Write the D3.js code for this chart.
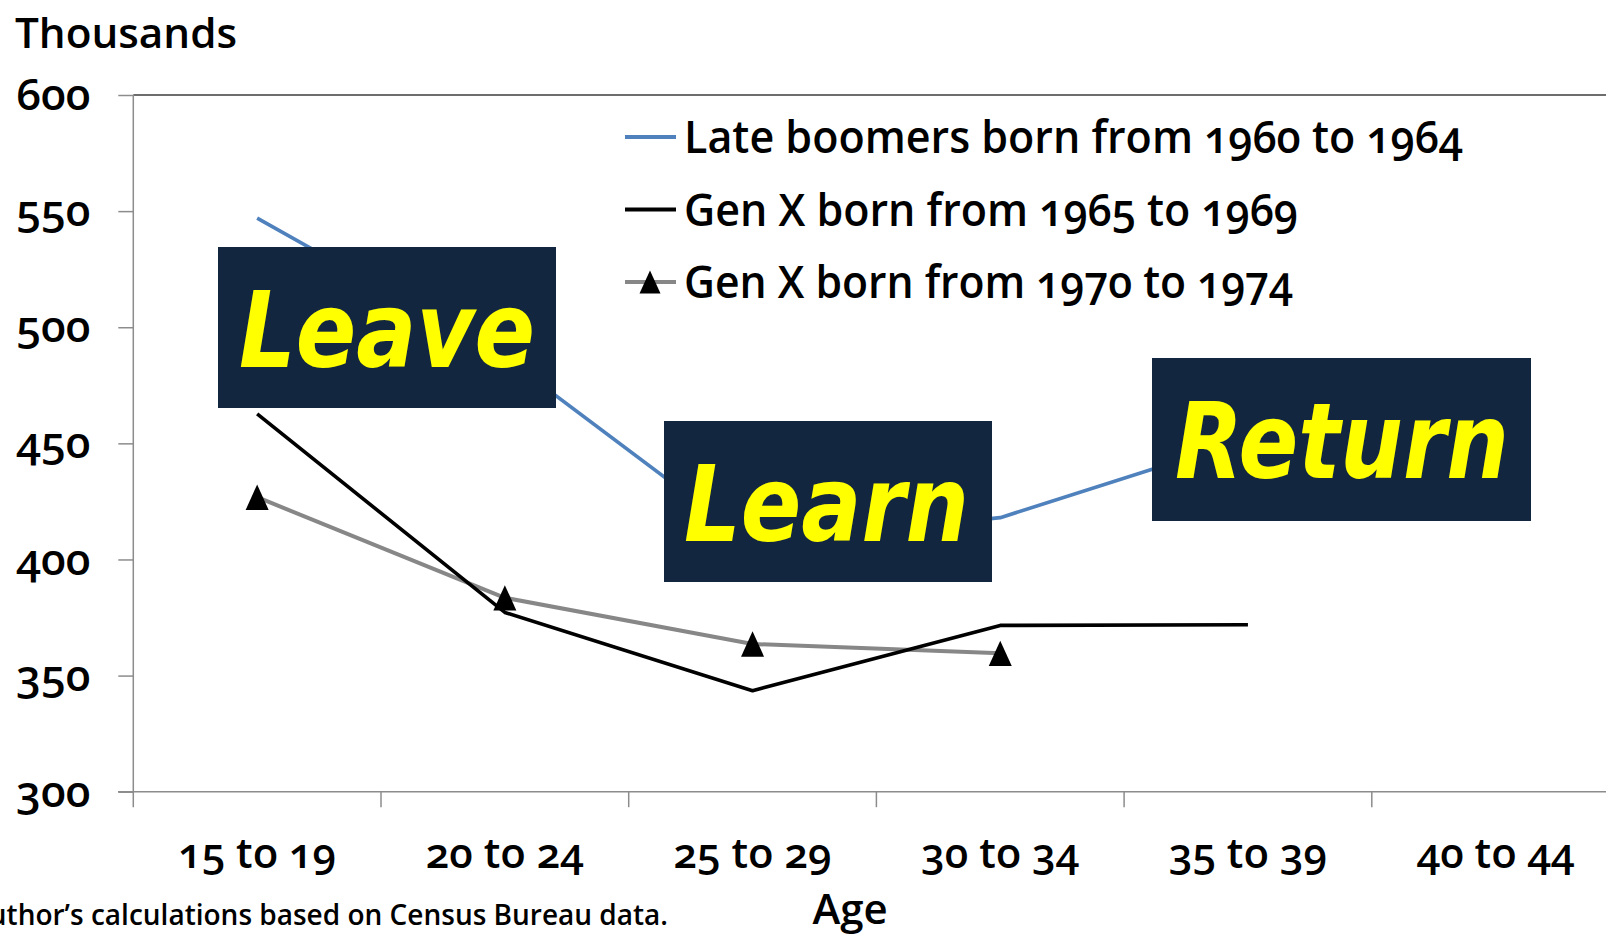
<!DOCTYPE html>
<html lang="en">
<head>
    <meta charset="UTF-8">
    <title>Leave, Learn, Return</title>
    <style>
        body { margin: 0; background: #fff; }
        svg { display: block; }
        .lbl { font-family: "Open Sans", sans-serif; font-weight: 600; font-feature-settings: "onum"; font-variant-numeric: oldstyle-nums; }
    </style>
</head>
<body>

    <svg id="svg" width="1606" height="936"></svg>

    <script src="https://d3js.org/d3.v7.min.js"></script>
    <script>
        // categories and values (thousands)
        const ages = ['15 to 19', '20 to 24', '25 to 29', '30 to 34', '35 to 39', '40 to 44']
        const lateBoomers = [547, 487, 407, 418, 452, 468]
        const genX6569 = [462.7, 377.2, 343.5, 371.6, 371.9]
        const genX7074 = [426.8, 383.5, 363.6, 359.6]
        const yTicks = [300, 350, 400, 450, 500, 550, 600]
        const seriesNames = ['Late boomers born from 1960 to 1964', 'Gen X born from 1965 to 1969', 'Gen X born from 1970 to 1974']
        const boxWords = ['Leave', 'Learn', 'Return']

        const svg = d3.select('#svg')

        const x = d3.scaleBand()
            .domain(ages)
            .range([133.3, 133.3 + 6 * 247.7])

        const y = d3.scaleLinear()
            .domain([300, 600])
            .range([791.7, 95])

        const cx = d => x(d) + x.bandwidth() / 2

        // triangle with its box centred on the point
        const tri = {
            draw(ctx, size) {
                const w = Math.sqrt(size) , h = w * 1.1
                ctx.moveTo(0, -h / 2)
                ctx.lineTo(w / 2, h / 2)
                ctx.lineTo(-w / 2, h / 2)
                ctx.closePath()
            }
        }

        // axes lines
        svg.append('line')
            .attr('x1', 133.3).attr('x2', 1606)
            .attr('y1', y(600)).attr('y2', y(600))
            .attr('stroke', '#3c3c3c').attr('stroke-width', 1.4)
        svg.append('line')
            .attr('x1', 133.3).attr('x2', 133.3)
            .attr('y1', y(600)).attr('y2', y(300) + 15.5)
            .attr('stroke', '#8c8c8c').attr('stroke-width', 1.5)
        svg.append('line')
            .attr('x1', 118).attr('x2', 1606)
            .attr('y1', y(300)).attr('y2', y(300))
            .attr('stroke', '#8c8c8c').attr('stroke-width', 1.5)

        // y axis
        const yAxis = svg.append('g')
            .attr('transform', 'translate(133.3,0)')
            .call(d3.axisLeft(y).tickValues(yTicks).tickSize(15).tickSizeOuter(0).tickPadding(28))
        yAxis.select('.domain').remove()
        yAxis.selectAll('line').attr('stroke', '#8c8c8c').attr('stroke-width', 1.5)
        yAxis.selectAll('text')
            .attr('class', 'lbl')
            .attr('font-size', 43)
            .attr('fill', '#000')
            .attr('dy', '0.34em')
            .attr('textLength', 74)
            .attr('lengthAdjust', 'spacingAndGlyphs')

        // x axis: ticks on band edges, labels centred
        svg.append('g')
            .selectAll('line')
            .data(ages)
            .enter()
            .append('line')
            .attr('x1', d => x(d) + x.bandwidth()).attr('x2', d => x(d) + x.bandwidth())
            .attr('y1', y(300)).attr('y2', y(300) + 15.5)
            .attr('stroke', '#8c8c8c').attr('stroke-width', 1.5)

        svg.append('g')
            .selectAll('text')
            .data(ages)
            .enter()
            .append('text')
            .attr('class', 'lbl')
            .attr('x', d => cx(d))
            .attr('y', 868)
            .attr('text-anchor', 'middle')
            .attr('font-size', 42)
            .attr('textLength', 158)
            .attr('lengthAdjust', 'spacingAndGlyphs')
            .text(d => d)

        // series lines
        const line = d3.line()
            .x((d, i) => cx(ages[i]))
            .y(d => y(d))

        svg.append('path')
            .datum(lateBoomers)
            .attr('d', line)
            .attr('fill', 'none')
            .attr('stroke', '#4f81bd')
            .attr('stroke-width', 3.6)
            .attr('stroke-linejoin', 'round')

        svg.append('path')
            .datum(genX7074)
            .attr('d', line)
            .attr('fill', 'none')
            .attr('stroke', '#878787')
            .attr('stroke-width', 4)
            .attr('stroke-linejoin', 'round')

        svg.append('path')
            .datum(genX6569)
            .attr('d', line)
            .attr('fill', 'none')
            .attr('stroke', '#000')
            .attr('stroke-width', 3.6)
            .attr('stroke-linejoin', 'round')

        svg.append('g')
            .selectAll('path')
            .data(genX7074)
            .enter()
            .append('path')
            .attr('d', d3.symbol().type(tri).size(23 * 23))
            .attr('transform', (d, i) => `translate(${cx(ages[i])},${y(d)})`)
            .attr('fill', '#000')

        // legend
        const legend = svg.append('g')
        const legendColors = ['#4f81bd', '#000', '#878787']
        legend.selectAll('line')
            .data(seriesNames)
            .enter()
            .append('line')
            .attr('x1', 625).attr('x2', 676)
            .attr('y1', (d, i) => 137 + i * 72.5)
            .attr('y2', (d, i) => 137 + i * 72.5)
            .attr('stroke', (d, i) => legendColors[i])
            .attr('stroke-width', 3.8)
        legend.append('path')
            .attr('d', d3.symbol().type(tri).size(21 * 21))
            .attr('transform', `translate(650,${137 + 2 * 72.5})`)
            .attr('fill', '#000')
        const legendWidths = [779, 614, 609]
        legend.selectAll('text')
            .data(seriesNames)
            .enter()
            .append('text')
            .attr('class', 'lbl')
            .attr('x', 684)
            .attr('y', (d, i) => 153 + i * 72.5)
            .attr('font-size', 46)
            .attr('textLength', (d, i) => legendWidths[i])
            .attr('lengthAdjust', 'spacingAndGlyphs')
            .text(d => d)

        // annotation boxes
        const boxes = [
            { x: 218, y: 247, w: 338, h: 161, tx: 239, ty: 367, tw: 296 },
            { x: 664, y: 421, w: 328, h: 161, tx: 684, ty: 541, tw: 285 },
            { x: 1152, y: 358, w: 379, h: 163, tx: 1175, ty: 478, tw: 334 }
        ]
        const ann = svg.append('g')
        ann.selectAll('rect')
            .data(boxes)
            .enter()
            .append('rect')
            .attr('x', d => d.x).attr('y', d => d.y)
            .attr('width', d => d.w).attr('height', d => d.h)
            .attr('fill', '#13263f')
        ann.selectAll('text')
            .data(boxes)
            .enter()
            .append('text')
            .attr('x', d => d.tx).attr('y', d => d.ty)
            .attr('textLength', d => d.tw)
            .attr('lengthAdjust', 'spacingAndGlyphs')
            .attr('font-family', 'DejaVu Sans, sans-serif')
            .attr('font-weight', 'bold')
            .attr('font-style', 'italic')
            .attr('font-size', 106)
            .attr('fill', '#ffff00')
            .text((d, i) => boxWords[i])

        // titles
        svg.append('text')
            .attr('class', 'lbl')
            .attr('x', 15).attr('y', 48)
            .attr('font-size', 42)
            .attr('textLength', 222)
            .attr('lengthAdjust', 'spacingAndGlyphs')
            .text('Thousands')

        svg.append('text')
            .attr('class', 'lbl')
            .attr('x', 850).attr('y', 924)
            .attr('text-anchor', 'middle')
            .attr('font-size', 42)
            .text('Age')

        svg.append('text')
            .attr('class', 'lbl')
            .attr('x', 668).attr('y', 925)
            .attr('text-anchor', 'end')
            .attr('font-size', 28)
            .text('Author’s calculations based on Census Bureau data.')
    </script>
</body>
</html>
